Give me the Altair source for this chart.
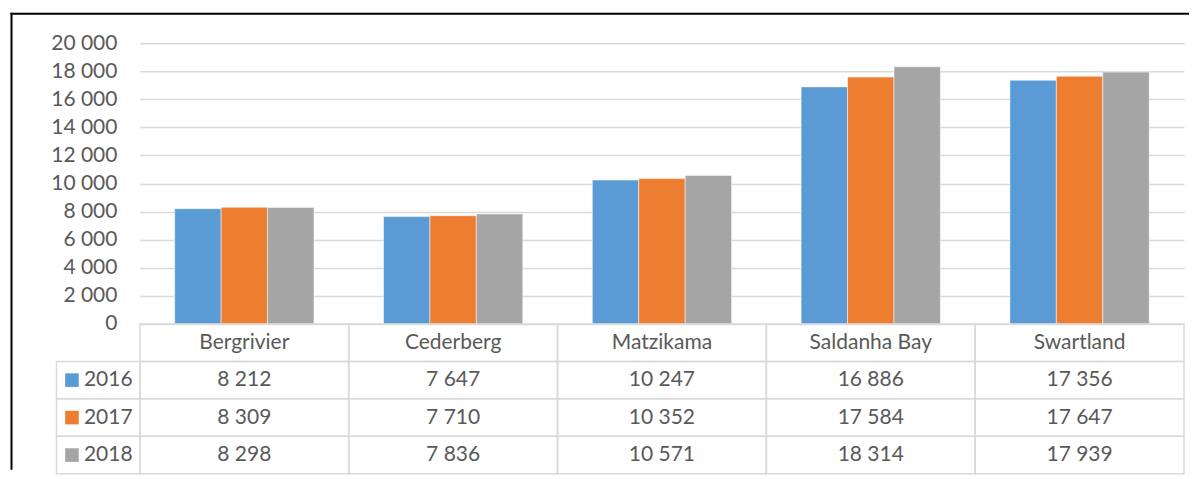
import altair as alt
import pandas as pd

districts = ["Bergrivier", "Cederberg", "Matzikama", "Saldanha Bay", "Swartland"]
years = ["2016", "2017", "2018"]
v2016 = [8212, 7647, 10247, 16886, 17356]
v2017 = [8309, 7710, 10352, 17584, 17647]
v2018 = [8298, 7836, 10571, 18314, 17939]
colors = ["#5B9BD5", "#ED7D31", "#A5A5A5"]
y_ticks = list(range(0, 20001, 2000))
row_keys = ["hdr"] + years

FONT = "Lato"
FS = 21
TXT = "#595959"
GRID = "#D9D9D9"
W, H = 1045, 281
TABLE_TOP, TABLE_BOT = 281, 431

recs = []
for yr, vals in zip(years, [v2016, v2017, v2018]):
    for d, v in zip(districts, vals):
        recs.append({"district": d, "year": yr, "row": yr, "value": v,
                     "label": f"{v:,}".replace(",", " ")})
df = pd.DataFrame(recs)
hdr = pd.DataFrame({"district": districts, "row": ["hdr"] * len(districts)})
leg = pd.DataFrame({"year": years, "row": years})
one = pd.DataFrame({"a": [0]})

x_bar = alt.X("district:N", sort=districts, axis=None,
              scale=alt.Scale(domain=districts, paddingInner=0.333, paddingOuter=0.1667))
x_tab = alt.X("district:N", sort=districts, axis=None,
              scale=alt.Scale(domain=districts, paddingInner=0, paddingOuter=0))
y_tab = alt.Y("row:N", axis=None, bandPosition=0.5,
              scale=alt.Scale(type="band", domain=row_keys, range=[TABLE_TOP, TABLE_BOT],
                              paddingInner=0, paddingOuter=0))
y_tab_rect = alt.Y("row:N", axis=None,
                   scale=alt.Scale(type="band", domain=row_keys, range=[TABLE_TOP, TABLE_BOT],
                                   paddingInner=0, paddingOuter=0))
color = alt.Color("year:N", legend=None,
                  scale=alt.Scale(domain=years, range=colors))

bars = alt.Chart(df).mark_bar(stroke="white", strokeWidth=1, strokeOpacity=0.5).encode(
    x=x_bar,
    xOffset=alt.XOffset("year:N", sort=years, scale=alt.Scale(paddingInner=0, paddingOuter=0)),
    y=alt.Y("value:Q", scale=alt.Scale(domain=[0, 20000], nice=False),
            axis=alt.Axis(values=y_ticks, title=None, ticks=False, domain=False,
                          grid=True, gridColor=GRID, gridWidth=1.5,
                          labelExpr="replace(format(datum.value, ','), ',', ' ')",
                          labelFont=FONT, labelFontSize=FS, labelColor=TXT,
                          labelPadding=23)),
    color=color,
)

cells = alt.Chart(df).mark_rect(fill="white", fillOpacity=0, stroke=GRID, strokeWidth=1.5).encode(
    x=x_tab, y=y_tab_rect)
hdr_cells = alt.Chart(hdr).mark_rect(fill="white", fillOpacity=0, stroke=GRID, strokeWidth=1.5).encode(
    x=x_tab, y=y_tab_rect)
leg_cells = alt.Chart(leg).mark_rect(fill="white", fillOpacity=0, stroke=GRID, strokeWidth=1.5).encode(
    x=alt.value(-83.5), x2=alt.value(0), y=y_tab_rect)

vals_txt = alt.Chart(df).mark_text(font=FONT, fontSize=FS, color=TXT, baseline="middle").encode(
    x=alt.X("district:N", sort=districts, axis=None, bandPosition=0.5,
            scale=alt.Scale(domain=districts, paddingInner=0, paddingOuter=0)),
    y=y_tab, text="label:N")
hdr_txt = alt.Chart(hdr).mark_text(font=FONT, fontSize=FS, color=TXT, baseline="middle").encode(
    x=alt.X("district:N", sort=districts, axis=None, bandPosition=0.5,
            scale=alt.Scale(domain=districts, paddingInner=0, paddingOuter=0)),
    y=y_tab, text="district:N")
leg_sq = alt.Chart(leg).mark_square(size=185, opacity=1).encode(
    x=alt.value(-68), y=y_tab, color=color)
leg_txt = alt.Chart(leg).mark_text(font=FONT, fontSize=FS, color=TXT, align="left",
                                   baseline="middle").encode(
    x=alt.value(-56), y=y_tab, text="year:N")

border_l = alt.Chart(one).mark_rule(color="black", strokeWidth=2).encode(
    x=alt.value(-128.5), y=alt.value(-30.5), y2=alt.value(427))
border_t = alt.Chart(one).mark_rule(color="black", strokeWidth=2).encode(
    x=alt.value(-129.5), x2=alt.value(1050), y=alt.value(-29.5))

chart = alt.layer(
    bars, cells, hdr_cells, leg_cells, vals_txt, hdr_txt, leg_sq, leg_txt, border_l, border_t
).resolve_scale(x="independent", y="independent").properties(
    width=W, height=H,
    padding={"left": 1, "top": 3, "right": 0, "bottom": 0},
).configure_view(stroke=None)

chart.save("out.html", embed_options={"renderer": "svg", "actions": False})
